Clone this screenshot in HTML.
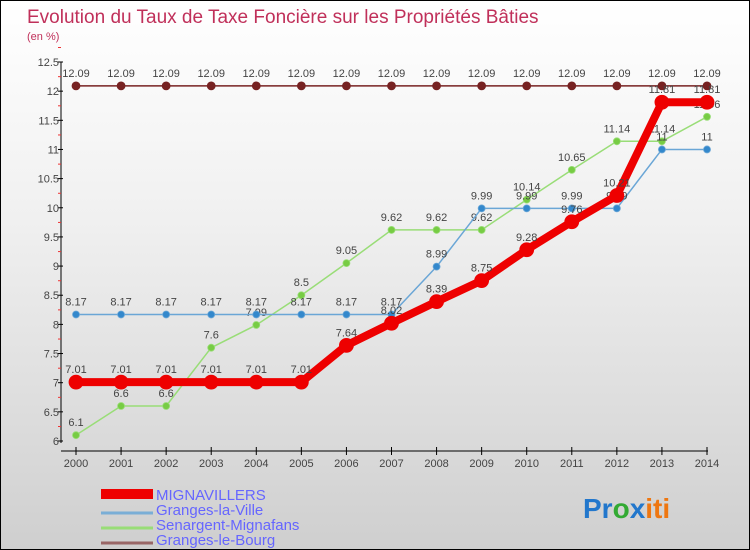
<!DOCTYPE html>
<html><head><meta charset="utf-8"><style>
body{margin:0}
#c{position:relative;width:748px;height:548px;border:1px solid #000;background:linear-gradient(#ffffff,#f0f0f0 40%,#cfcfcf);font-family:"Liberation Sans",sans-serif;overflow:hidden}
text{font-family:"Liberation Sans",sans-serif}
</style></head><body>
<div id="c">
<svg id="s" width="748" height="548">
<text x="26" y="22" font-size="19" fill="#c0305a">Evolution du Taux de Taxe Foncière sur les Propriétés Bâties</text>
<text x="26" y="39" font-size="11" fill="#c0305a">(en %)</text>
<g id="axes"></g><g id="series"></g>
<g>
<rect x="100" y="488" width="52" height="10" fill="#ee0000"/>
<text x="155" y="499" font-size="15" fill="#6666ff">MIGNAVILLERS</text>
<line x1="100" y1="512" x2="152" y2="512" stroke="#7aaed6" stroke-width="3"/>
<text x="155" y="514" font-size="15" fill="#6666ff">Granges-la-Ville</text>
<line x1="100" y1="527" x2="152" y2="527" stroke="#99dd77" stroke-width="3"/>
<text x="155" y="529" font-size="15" fill="#6666ff">Senargent-Mignafans</text>
<line x1="100" y1="542" x2="152" y2="542" stroke="#996666" stroke-width="3"/>
<text x="155" y="544" font-size="15" fill="#6666ff">Granges-le-Bourg</text>
</g>
<text x="582" y="517" font-size="28" font-weight="bold"><tspan fill="#2277cc">Pr</tspan><tspan fill="#33aa33">o</tspan><tspan fill="#2277cc">x</tspan><tspan fill="#ee7711">iti</tspan></text>
</svg>
</div>
<script>
const years=[2000,2001,2002,2003,2004,2005,2006,2007,2008,2009,2010,2011,2012,2013,2014];
const mign=[7.01,7.01,7.01,7.01,7.01,7.01,7.64,8.02,8.39,8.75,9.28,9.76,10.21,11.81,11.81];
const gville=[8.17,8.17,8.17,8.17,8.17,8.17,8.17,8.17,8.99,9.99,9.99,9.99,9.99,11,11];
const senar=[6.1,6.6,6.6,7.6,7.99,8.5,9.05,9.62,9.62,9.62,10.14,10.65,11.14,11.14,11.56];
const gbourg=[12.09,12.09,12.09,12.09,12.09,12.09,12.09,12.09,12.09,12.09,12.09,12.09,12.09,12.09,12.09];
const yTicks=[6,6.5,7,7.5,8,8.5,9,9.5,10,10.5,11,11.5,12,12.5];
const NS="http://www.w3.org/2000/svg";
const X=i=>75+i*(706-75)/(years.length-1);
const Y=v=>440-(v-6)*(440-61)/6.5;
function mk(t,a,p){const e=document.createElementNS(NS,t);for(const k in a)e.setAttribute(k,a[k]);p.appendChild(e);return e;}
const ax=document.getElementById('axes'),sg=document.getElementById('series');
let l=mk('line',{x1:60,y1:61,x2:60,y2:442,stroke:'#000'},ax);


l=mk('line',{x1:60,y1:450,x2:707,y2:450,stroke:'#000'},ax);


yTicks.forEach(v=>{const y=Y(v);
 mk('line',{x1:57,y1:y,x2:62,y2:y,stroke:'#000'},ax);
 mk('line',{x1:57,y1:y-14.5,x2:60,y2:y-14.5,stroke:'#e33'},ax);
 const t=mk('text',{x:58,y:y+4,'font-size':11,fill:'#444','text-anchor':'end'},ax);t.textContent=String(v);
 
 });
years.forEach((yr,i)=>{const x=X(i);
 mk('line',{x1:x,y1:446,x2:x,y2:454,stroke:'#000'},ax);
 const t=mk('text',{x:x,y:466,'font-size':11,fill:'#444','text-anchor':'middle'},ax);t.textContent=yr;
 
 });
function series(d,color,w,r,name,dot){
 const g=mk('g',{},sg);
 
 
 mk('polyline',{points:d.map((v,i)=>X(i)+','+Y(v)).join(' '),fill:'none',stroke:color,'stroke-width':w,'stroke-linejoin':'round'},g);
 d.forEach((v,i)=>{const c=mk('circle',{cx:X(i),cy:Y(v),r:r,fill:dot,stroke:color,'stroke-width':0.8},g);
  
  
  const t=mk('text',{x:X(i),y:Y(v)-9,'font-size':11,fill:'#444','text-anchor':'middle'},g);t.textContent=String(v);});
}
series(gbourg,'#772222',1.5,4,'granges-le-bourg','#772222');
series(senar,'#99dd77',1.5,3.5,'senargent','#77cc44');
series(gville,'#6aa6d6',1.5,3.5,'granges-la-ville','#3388cc');
series(mign,'#ee0000',8,7,'mignavillers','#ee0000');
</script>
</body></html>
